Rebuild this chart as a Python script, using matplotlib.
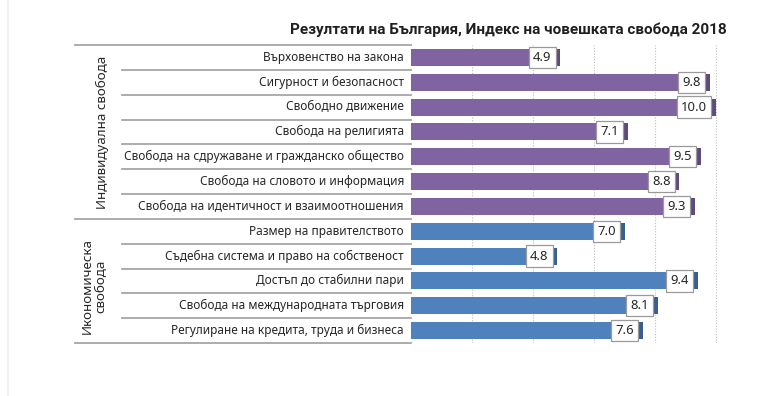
import matplotlib.pyplot as plt
import matplotlib.transforms as mtransforms
from matplotlib.lines import Line2D

plt.rcParams['font.family'] = ['Noto Sans', 'DejaVu Sans']

# Data
categories = [
    'Върховенство на закона',
    'Сигурност и безопасност',
    'Свободно движение',
    'Свобода на религията',
    'Свобода на сдружаване и гражданско общество',
    'Свобода на словото и информация',
    'Свобода на идентичност и взаимоотношения',
    'Размер на правителството',
    'Съдебна система и право на собственост',
    'Достъп до стабилни пари',
    'Свобода на международната търговия',
    'Регулиране на кредита, труда и бизнеса',
]
scores = [4.9, 9.8, 10.0, 7.1, 9.5, 8.8, 9.3, 7.0, 4.8, 9.4, 8.1, 7.6]
groups = ['Индивидуална свобода', 'Икономическа\nсвобода']
group_sizes = [7, 5]
title = 'Резултати на България, Индекс на човешката свобода 2018'

W, H = 768, 396
purple, purple_dark = '#8064A2', '#5E4A7C'
blue, blue_dark = '#4F81BD', '#385F8F'
line_col = '#A6A6A6'

fig = plt.figure(figsize=(W / 100, H / 100), dpi=100)
fig.patch.set_facecolor('white')

# axes: x=0 at 411px, 10 at 716px; rows from y=45 to 343px
x0, x10 = 411, 716
xmax = 10.12
ax_w = (x10 - x0) / 10 * xmax
ax = fig.add_axes([x0 / W, 1 - 343 / H, ax_w / W, 298 / H])

n = len(categories)
ypos = list(range(n))
colors = []
darks = []
for g, size in enumerate(group_sizes):
    colors += [purple if g == 0 else blue] * size
    darks += [purple_dark if g == 0 else blue_dark] * size

end_w = 0.16
ax.barh(ypos, scores, height=0.68, color=colors, zorder=2)
ax.barh(ypos, [end_w] * n, left=[s - end_w for s in scores], height=0.68,
        color=darks, zorder=2)

for y, s in zip(ypos, scores):
    ax.text(s - end_w - 0.13, y, f'{s:.1f}', ha='right', va='center',
            fontsize=9.4, color='#262626', zorder=4,
            bbox=dict(boxstyle='square,pad=0.32', fc='white', ec='#9A9A9A', lw=0.9))

ax.set_xlim(0, xmax)
ax.set_ylim(n - 0.5, -0.5)
for gx in [2, 4, 6, 8, 10]:
    ax.axvline(gx, color='#BDBDBD', lw=0.8, ls=(0, (1, 1.5)), zorder=1)
for sp in ax.spines.values():
    sp.set_visible(False)
ax.set_xticks([])
ax.set_yticks([])

# left table: labels and separator lines
blend = mtransforms.blended_transform_factory(fig.transFigure, ax.transData)
for y, label in zip(ypos, categories):
    fig.text(404 / W, y, label, transform=blend, ha='right', va='center',
             fontsize=8.5, color='#262626')

group_edges = [-0.5]
for size in group_sizes:
    group_edges.append(group_edges[-1] + size)
for y in range(n + 1):
    yy = y - 0.5
    xs = 75 if yy in group_edges else 122
    fig.add_artist(Line2D([xs / W, x0 / W], [yy, yy], transform=blend,
                          color=line_col, lw=1.3))

for g, label in enumerate(groups):
    mid = (group_edges[g] + group_edges[g + 1]) / 2
    gx = 102 if g == 0 else 94
    fig.text(gx / W, mid if g == 0 else mid + 0.2, label, transform=blend,
             rotation=90, ha='center', va='center', fontsize=9.6,
             color='#262626', linespacing=1.0)

fig.text(727 / W, 1 - 30 / H, title, ha='right', va='center', fontsize=11,
         fontweight='bold', color='#1F1F1F', family=['Roboto', 'DejaVu Sans'])

# faint frame line on the left
fig.add_artist(Line2D([8 / W, 8 / W], [0, 1], transform=fig.transFigure,
                      color='#EDEDED', lw=1.2))

fig.savefig('out.png', dpi=100, facecolor='white')
